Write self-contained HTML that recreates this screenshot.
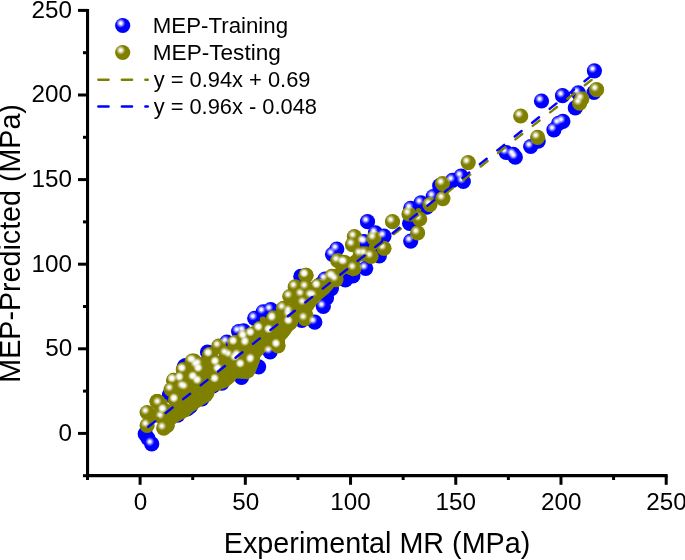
<!DOCTYPE html>
<html><head><meta charset="utf-8"><style>
html,body{margin:0;padding:0;background:#fff;}
svg{display:block;will-change:transform;font-family:"Liberation Sans",sans-serif;}
</style></head><body>
<svg width="685" height="560" viewBox="0 0 685 560">
<defs>
<radialGradient id="gb" cx="0.37" cy="0.35" r="0.30">
<stop offset="0" stop-color="#ffffff"/><stop offset="0.25" stop-color="#f4f4ff"/><stop offset="1" stop-color="#0000ff"/>
</radialGradient>
<radialGradient id="go" cx="0.37" cy="0.35" r="0.30">
<stop offset="0" stop-color="#ffffff"/><stop offset="0.25" stop-color="#f8f8f0"/><stop offset="1" stop-color="#808000"/>
</radialGradient>
<radialGradient id="gh" cx="0.5" cy="0.5" r="0.5">
<stop offset="0" stop-color="#fff" stop-opacity="1"/><stop offset="0.28" stop-color="#fff" stop-opacity="0.9"/><stop offset="0.65" stop-color="#fff" stop-opacity="0.36"/><stop offset="1" stop-color="#fff" stop-opacity="0"/>
</radialGradient>
</defs>
<rect width="685" height="560" fill="#fff"/>
<g id="pb" fill="#0000ff">
<circle cx="594.4" cy="70.8" r="7.6"/>
<circle cx="541.5" cy="101.0" r="7.6"/>
<circle cx="562.5" cy="95.7" r="7.6"/>
<circle cx="578.3" cy="92.9" r="7.6"/>
<circle cx="594.0" cy="92.5" r="7.6"/>
<circle cx="575.3" cy="107.9" r="7.6"/>
<circle cx="562.9" cy="121.4" r="7.6"/>
<circle cx="558.6" cy="123.3" r="7.6"/>
<circle cx="553.9" cy="129.8" r="7.6"/>
<circle cx="538.2" cy="141.1" r="7.6"/>
<circle cx="530.7" cy="146.5" r="7.6"/>
<circle cx="506.1" cy="152.5" r="7.6"/>
<circle cx="513.2" cy="154.4" r="7.6"/>
<circle cx="515.3" cy="157.2" r="7.6"/>
<circle cx="461.1" cy="176.1" r="7.6"/>
<circle cx="452.5" cy="180.4" r="7.6"/>
<circle cx="463.3" cy="181.5" r="7.6"/>
<circle cx="439.7" cy="185.7" r="7.6"/>
<circle cx="433.2" cy="196.5" r="7.6"/>
<circle cx="421.0" cy="202.9" r="7.6"/>
<circle cx="410.7" cy="208.3" r="7.6"/>
<circle cx="426.8" cy="207.2" r="7.6"/>
<circle cx="409.6" cy="223.3" r="7.6"/>
<circle cx="410.7" cy="241.1" r="7.6"/>
<circle cx="367.5" cy="221.7" r="7.6"/>
<circle cx="375.4" cy="232.9" r="7.6"/>
<circle cx="384.0" cy="236.1" r="7.6"/>
<circle cx="336.8" cy="249.0" r="7.6"/>
<circle cx="332.5" cy="254.3" r="7.6"/>
<circle cx="363.6" cy="241.5" r="7.6"/>
<circle cx="379.3" cy="256.0" r="7.6"/>
<circle cx="365.7" cy="268.3" r="7.6"/>
<circle cx="352.9" cy="275.8" r="7.6"/>
<circle cx="345.4" cy="280.0" r="7.6"/>
<circle cx="325.0" cy="279.0" r="7.6"/>
<circle cx="320.7" cy="284.3" r="7.6"/>
<circle cx="323.3" cy="306.5" r="7.6"/>
<circle cx="331.4" cy="288.6" r="7.6"/>
<circle cx="365.0" cy="242.0" r="7.6"/>
<circle cx="300.8" cy="276.4" r="7.6"/>
<circle cx="263.2" cy="311.8" r="7.6"/>
<circle cx="254.7" cy="318.3" r="7.6"/>
<circle cx="270.7" cy="309.7" r="7.6"/>
<circle cx="238.6" cy="331.5" r="7.6"/>
<circle cx="270.1" cy="351.8" r="7.6"/>
<circle cx="326.5" cy="297.9" r="7.6"/>
<circle cx="301.8" cy="320.4" r="7.6"/>
<circle cx="314.8" cy="322.2" r="7.6"/>
<circle cx="226.8" cy="342.0" r="7.6"/>
<circle cx="207.5" cy="352.1" r="7.6"/>
<circle cx="258.6" cy="366.8" r="7.6"/>
<circle cx="241.5" cy="377.5" r="7.6"/>
<circle cx="221.9" cy="383.1" r="7.6"/>
<circle cx="213.0" cy="386.0" r="7.6"/>
<circle cx="185.4" cy="365.5" r="7.6"/>
<circle cx="169.5" cy="395.0" r="7.6"/>
<circle cx="190.5" cy="406.5" r="7.6"/>
<circle cx="175.0" cy="414.0" r="7.6"/>
<circle cx="145.2" cy="433.8" r="7.6"/>
<circle cx="148.0" cy="438.4" r="7.6"/>
<circle cx="151.7" cy="443.9" r="7.6"/>
<circle cx="201.9" cy="398.8" r="7.6"/>
<circle cx="187.2" cy="409.0" r="7.6"/>
<circle cx="177.7" cy="415.2" r="7.6"/>
<circle cx="184.2" cy="366.9" r="7.6"/>
<circle cx="169.5" cy="395.0" r="7.6"/>
<circle cx="243.6" cy="330.8" r="7.6"/>
</g>
<g id="pf" fill="#808000">
<polygon points="171.4,430.0 173.6,425.0 178.6,421.4 184.3,418.6 189.3,415.7 192.9,411.9 197.1,409.3 200.0,407.1 205.7,403.6 210.7,400.7 213.6,396.4 215.0,392.1 220.0,390.0 225.7,387.9 230.0,385.3 234.3,381.4 236.4,378.6 247.9,379.3 252.9,376.4 255.7,372.1 257.9,366.4 258.6,360.7 260.7,356.4 264.3,352.9 267.9,349.3 277.9,352.1 282.9,349.3 285.0,345.0 285.0,340.0 289.3,335.0 292.9,330.0 295.0,328.6 297.9,322.1 304.3,323.6 310.7,320.7 313.6,315.0 312.1,310.7 317.1,303.6 322.9,297.9 328.6,293.6 332.9,288.6 336.4,284.3 341.4,280.7 342.9,276.4 345.7,273.6 352.9,276.4 357.9,273.6 360.0,269.3 360.0,249.0 357.9,250.7 352.9,254.7 345.7,260.4 342.9,262.6 341.4,263.8 336.4,267.7 332.9,270.5 328.6,273.9 322.9,278.4 317.1,283.0 312.1,287.0 313.6,285.8 310.7,288.1 304.3,293.2 297.9,298.2 295.0,300.5 292.9,302.2 289.3,305.1 285.0,308.5 285.0,308.5 282.9,310.1 277.9,314.1 267.9,322.0 264.3,324.9 260.7,327.7 258.6,329.4 257.9,329.9 255.7,331.7 252.9,333.9 247.9,337.9 236.4,347.0 234.3,348.6 230.0,352.0 225.7,355.5 220.0,360.0 215.0,363.9 213.6,365.0 210.7,367.3 205.7,371.3 200.0,375.8 197.1,378.1 192.9,381.4 189.3,384.3 184.3,388.3 178.6,392.8 173.6,396.7 171.4,398.5"/>
<circle cx="265.5" cy="322" r="2.2"/>
<circle cx="152.5" cy="418.5" r="2.5"/>
<circle cx="418.5" cy="210.7" r="2.8"/>
<circle cx="372.5" cy="247.4" r="3.8"/>
<circle cx="292.9" cy="300.3" r="3.8"/>
<circle cx="263" cy="319.8" r="3.2"/>
<circle cx="206.4" cy="365.1" r="5.2"/>
<circle cx="216" cy="352.5" r="2.8"/>
<circle cx="152.5" cy="413.5" r="4.8"/>
<circle cx="165.5" cy="401.5" r="2.2"/>
</g>
<g id="po" fill="#808000">
<circle cx="596.6" cy="89.7" r="7.6"/>
<circle cx="581.8" cy="98.9" r="7.6"/>
<circle cx="579.6" cy="103.2" r="7.6"/>
<circle cx="520.7" cy="116.0" r="7.6"/>
<circle cx="537.6" cy="137.3" r="7.6"/>
<circle cx="468.2" cy="162.6" r="7.6"/>
<circle cx="442.5" cy="183.6" r="7.6"/>
<circle cx="442.9" cy="198.6" r="7.6"/>
<circle cx="430.0" cy="204.6" r="7.6"/>
<circle cx="409.0" cy="214.0" r="7.6"/>
<circle cx="419.7" cy="219.0" r="7.6"/>
<circle cx="417.6" cy="232.9" r="7.6"/>
<circle cx="392.5" cy="221.7" r="7.6"/>
<circle cx="354.4" cy="236.7" r="7.6"/>
<circle cx="352.5" cy="244.7" r="7.6"/>
<circle cx="373.9" cy="238.2" r="7.6"/>
<circle cx="384.0" cy="248.3" r="7.6"/>
<circle cx="371.1" cy="256.5" r="7.6"/>
<circle cx="360.4" cy="253.9" r="7.6"/>
<circle cx="337.8" cy="260.7" r="7.6"/>
<circle cx="345.3" cy="262.8" r="7.6"/>
<circle cx="354.0" cy="268.3" r="7.6"/>
<circle cx="333.5" cy="276.8" r="7.6"/>
<circle cx="318.5" cy="286.4" r="7.6"/>
<circle cx="306.0" cy="275.3" r="7.6"/>
<circle cx="314.2" cy="296.0" r="7.6"/>
<circle cx="365.0" cy="253.9" r="7.6"/>
<circle cx="343.6" cy="262.4" r="7.6"/>
<circle cx="331.8" cy="276.4" r="7.6"/>
<circle cx="336.0" cy="279.6" r="7.6"/>
<circle cx="306.0" cy="275.3" r="7.6"/>
<circle cx="295.2" cy="286.8" r="7.6"/>
<circle cx="306.0" cy="287.1" r="7.6"/>
<circle cx="317.8" cy="286.0" r="7.6"/>
<circle cx="289.8" cy="296.5" r="7.6"/>
<circle cx="301.8" cy="294.6" r="7.6"/>
<circle cx="311.4" cy="295.7" r="7.6"/>
<circle cx="303.9" cy="303.2" r="7.6"/>
<circle cx="289.8" cy="311.5" r="7.6"/>
<circle cx="283.4" cy="308.3" r="7.6"/>
<circle cx="273.7" cy="317.9" r="7.6"/>
<circle cx="289.8" cy="322.2" r="7.6"/>
<circle cx="305.0" cy="318.6" r="7.6"/>
<circle cx="259.8" cy="328.6" r="7.6"/>
<circle cx="270.5" cy="330.8" r="7.6"/>
<circle cx="252.3" cy="334.0" r="7.6"/>
<circle cx="244.5" cy="336.8" r="7.6"/>
<circle cx="246.9" cy="342.6" r="7.6"/>
<circle cx="235.1" cy="342.6" r="7.6"/>
<circle cx="278.0" cy="345.8" r="7.6"/>
<circle cx="281.5" cy="332.2" r="7.6"/>
<circle cx="251.4" cy="349.3" r="7.6"/>
<circle cx="257.9" cy="342.9" r="7.6"/>
<circle cx="238.3" cy="355.4" r="7.6"/>
<circle cx="252.3" cy="359.7" r="7.6"/>
<circle cx="289.5" cy="315.0" r="7.6"/>
<circle cx="273.4" cy="319.3" r="7.6"/>
<circle cx="290.5" cy="322.5" r="7.6"/>
<circle cx="260.5" cy="329.0" r="7.6"/>
<circle cx="270.2" cy="331.1" r="7.6"/>
<circle cx="244.5" cy="336.8" r="7.6"/>
<circle cx="251.9" cy="334.3" r="7.6"/>
<circle cx="234.8" cy="342.9" r="7.6"/>
<circle cx="246.6" cy="344.0" r="7.6"/>
<circle cx="277.7" cy="345.0" r="7.6"/>
<circle cx="218.7" cy="346.1" r="7.6"/>
<circle cx="210.1" cy="354.7" r="7.6"/>
<circle cx="226.2" cy="353.6" r="7.6"/>
<circle cx="235.9" cy="359.0" r="7.6"/>
<circle cx="251.9" cy="361.1" r="7.6"/>
<circle cx="242.3" cy="365.4" r="7.6"/>
<circle cx="216.6" cy="363.3" r="7.6"/>
<circle cx="219.8" cy="369.7" r="7.6"/>
<circle cx="194.1" cy="361.1" r="7.6"/>
<circle cx="199.4" cy="364.3" r="7.6"/>
<circle cx="200.5" cy="369.7" r="7.6"/>
<circle cx="183.3" cy="369.7" r="7.6"/>
<circle cx="181.2" cy="378.3" r="7.6"/>
<circle cx="173.7" cy="380.4" r="7.6"/>
<circle cx="194.1" cy="378.3" r="7.6"/>
<circle cx="199.4" cy="381.5" r="7.6"/>
<circle cx="216.6" cy="380.4" r="7.6"/>
<circle cx="183.3" cy="386.8" r="7.6"/>
<circle cx="190.0" cy="386.1" r="7.6"/>
<circle cx="175.8" cy="399.7" r="7.6"/>
<circle cx="164.0" cy="410.4" r="7.6"/>
<circle cx="206.1" cy="392.5" r="7.6"/>
<circle cx="245.8" cy="370.0" r="7.6"/>
<circle cx="228.6" cy="376.5" r="7.6"/>
<circle cx="187.9" cy="400.0" r="7.6"/>
<circle cx="170.7" cy="417.2" r="7.6"/>
<circle cx="147.1" cy="412.5" r="7.6"/>
<circle cx="147.1" cy="425.4" r="7.6"/>
<circle cx="159.1" cy="403.3" r="7.6"/>
<circle cx="164.6" cy="410.7" r="7.6"/>
<circle cx="161.9" cy="417.1" r="7.6"/>
<circle cx="163.7" cy="428.2" r="7.6"/>
<circle cx="167.3" cy="425.5" r="7.6"/>
<circle cx="175.7" cy="400.6" r="7.6"/>
<circle cx="173.8" cy="380.3" r="7.6"/>
<circle cx="181.2" cy="379.4" r="7.6"/>
<circle cx="171.1" cy="389.5" r="7.6"/>
<circle cx="185.8" cy="387.7" r="7.6"/>
<circle cx="195.0" cy="377.6" r="7.6"/>
<circle cx="198.7" cy="382.2" r="7.6"/>
<circle cx="184.0" cy="370.2" r="7.6"/>
<circle cx="192.2" cy="361.0" r="7.6"/>
<circle cx="199.6" cy="370.2" r="7.6"/>
<circle cx="196.8" cy="365.6" r="7.6"/>
<circle cx="209.7" cy="354.6" r="7.6"/>
<circle cx="217.1" cy="362.8" r="7.6"/>
<circle cx="218.9" cy="370.2" r="7.6"/>
<circle cx="216.2" cy="380.3" r="7.6"/>
<circle cx="237.3" cy="358.2" r="7.6"/>
<circle cx="241.9" cy="365.6" r="7.6"/>
<circle cx="206.0" cy="391.4" r="7.6"/>
<circle cx="183.9" cy="396.0" r="7.6"/>
<circle cx="157.2" cy="401.5" r="7.6"/>
<circle cx="157.2" cy="401.5" r="7.6"/>
<circle cx="157.2" cy="401.5" r="7.6"/>
<circle cx="230.0" cy="355.5" r="7.6"/>
</g>
<g id="hl" fill="url(#gh)">
<circle cx="592.5" cy="68.6" r="4.7"/>
<circle cx="539.6" cy="98.8" r="4.7"/>
<circle cx="560.6" cy="93.5" r="4.7"/>
<circle cx="576.4" cy="90.7" r="4.7"/>
<circle cx="561.0" cy="119.2" r="4.7"/>
<circle cx="556.7" cy="121.1" r="4.7"/>
<circle cx="552.0" cy="127.6" r="4.7"/>
<circle cx="528.8" cy="144.3" r="4.7"/>
<circle cx="504.2" cy="150.3" r="4.7"/>
<circle cx="511.3" cy="152.2" r="4.7"/>
<circle cx="513.4" cy="155.0" r="4.7"/>
<circle cx="459.2" cy="173.9" r="4.7"/>
<circle cx="450.6" cy="178.2" r="4.7"/>
<circle cx="461.4" cy="179.3" r="4.7"/>
<circle cx="431.3" cy="194.3" r="4.7"/>
<circle cx="419.1" cy="200.7" r="4.7"/>
<circle cx="408.8" cy="206.1" r="4.7"/>
<circle cx="408.8" cy="238.9" r="4.7"/>
<circle cx="365.6" cy="219.5" r="4.7"/>
<circle cx="373.5" cy="230.7" r="4.7"/>
<circle cx="382.1" cy="233.9" r="4.7"/>
<circle cx="334.9" cy="246.8" r="4.7"/>
<circle cx="330.6" cy="252.1" r="4.7"/>
<circle cx="361.7" cy="239.3" r="4.7"/>
<circle cx="363.8" cy="266.1" r="4.7"/>
<circle cx="323.1" cy="276.8" r="4.7"/>
<circle cx="321.4" cy="304.3" r="4.7"/>
<circle cx="363.1" cy="239.8" r="4.7"/>
<circle cx="261.3" cy="309.6" r="4.7"/>
<circle cx="252.8" cy="316.1" r="4.7"/>
<circle cx="268.8" cy="307.5" r="4.7"/>
<circle cx="236.7" cy="329.3" r="4.7"/>
<circle cx="268.2" cy="349.6" r="4.7"/>
<circle cx="312.9" cy="320.0" r="4.7"/>
<circle cx="224.9" cy="339.8" r="4.7"/>
<circle cx="149.8" cy="441.7" r="4.7"/>
<circle cx="241.7" cy="328.6" r="4.7"/>
<circle cx="594.7" cy="87.5" r="4.7"/>
<circle cx="579.9" cy="96.7" r="4.7"/>
<circle cx="577.7" cy="101.0" r="4.7"/>
<circle cx="518.8" cy="113.8" r="4.7"/>
<circle cx="535.7" cy="135.1" r="4.7"/>
<circle cx="466.3" cy="160.4" r="4.7"/>
<circle cx="440.6" cy="181.4" r="4.7"/>
<circle cx="441.0" cy="196.4" r="4.7"/>
<circle cx="428.1" cy="202.4" r="4.7"/>
<circle cx="407.1" cy="211.8" r="4.7"/>
<circle cx="417.8" cy="216.8" r="4.7"/>
<circle cx="415.7" cy="230.7" r="4.7"/>
<circle cx="390.6" cy="219.5" r="4.7"/>
<circle cx="352.5" cy="234.5" r="4.7"/>
<circle cx="350.6" cy="242.5" r="4.7"/>
<circle cx="372.0" cy="236.0" r="4.7"/>
<circle cx="382.1" cy="246.1" r="4.7"/>
<circle cx="369.2" cy="254.3" r="4.7"/>
<circle cx="358.5" cy="251.7" r="4.7"/>
<circle cx="335.9" cy="258.5" r="4.7"/>
<circle cx="343.4" cy="260.6" r="4.7"/>
<circle cx="352.1" cy="266.1" r="4.7"/>
<circle cx="331.6" cy="274.6" r="4.7"/>
<circle cx="316.6" cy="284.2" r="4.7"/>
<circle cx="304.1" cy="273.1" r="4.7"/>
<circle cx="312.3" cy="293.8" r="4.7"/>
<circle cx="363.1" cy="251.7" r="4.7"/>
<circle cx="341.7" cy="260.2" r="4.7"/>
<circle cx="329.9" cy="274.2" r="4.7"/>
<circle cx="334.1" cy="277.4" r="4.7"/>
<circle cx="304.1" cy="273.1" r="4.7"/>
<circle cx="293.3" cy="284.6" r="4.7"/>
<circle cx="304.1" cy="284.9" r="4.7"/>
<circle cx="315.9" cy="283.8" r="4.7"/>
<circle cx="287.9" cy="294.3" r="4.7"/>
<circle cx="299.9" cy="292.4" r="4.7"/>
<circle cx="309.5" cy="293.5" r="4.7"/>
<circle cx="302.0" cy="301.0" r="4.7"/>
<circle cx="287.9" cy="309.3" r="4.7"/>
<circle cx="281.5" cy="306.1" r="4.7"/>
<circle cx="271.8" cy="315.7" r="4.7"/>
<circle cx="287.9" cy="320.0" r="4.7"/>
<circle cx="303.1" cy="316.4" r="4.7"/>
<circle cx="257.9" cy="326.4" r="4.7"/>
<circle cx="268.6" cy="328.6" r="4.7"/>
<circle cx="250.4" cy="331.8" r="4.7"/>
<circle cx="242.6" cy="334.6" r="4.7"/>
<circle cx="245.0" cy="340.4" r="4.7"/>
<circle cx="233.2" cy="340.4" r="4.7"/>
<circle cx="276.1" cy="343.6" r="4.7"/>
<circle cx="236.4" cy="353.2" r="4.7"/>
<circle cx="250.4" cy="357.5" r="4.7"/>
<circle cx="287.6" cy="312.8" r="4.7"/>
<circle cx="271.5" cy="317.1" r="4.7"/>
<circle cx="288.6" cy="320.3" r="4.7"/>
<circle cx="258.6" cy="326.8" r="4.7"/>
<circle cx="268.3" cy="328.9" r="4.7"/>
<circle cx="242.6" cy="334.6" r="4.7"/>
<circle cx="250.0" cy="332.1" r="4.7"/>
<circle cx="232.9" cy="340.7" r="4.7"/>
<circle cx="244.7" cy="341.8" r="4.7"/>
<circle cx="275.8" cy="342.8" r="4.7"/>
<circle cx="216.8" cy="343.9" r="4.7"/>
<circle cx="208.2" cy="352.5" r="4.7"/>
<circle cx="224.3" cy="351.4" r="4.7"/>
<circle cx="234.0" cy="356.8" r="4.7"/>
<circle cx="250.0" cy="358.9" r="4.7"/>
<circle cx="240.4" cy="363.2" r="4.7"/>
<circle cx="214.7" cy="361.1" r="4.7"/>
<circle cx="217.9" cy="367.5" r="4.7"/>
<circle cx="192.2" cy="358.9" r="4.7"/>
<circle cx="197.5" cy="362.1" r="4.7"/>
<circle cx="198.6" cy="367.5" r="4.7"/>
<circle cx="181.4" cy="367.5" r="4.7"/>
<circle cx="179.3" cy="376.1" r="4.7"/>
<circle cx="171.8" cy="378.2" r="4.7"/>
<circle cx="192.2" cy="376.1" r="4.7"/>
<circle cx="197.5" cy="379.3" r="4.7"/>
<circle cx="214.7" cy="378.2" r="4.7"/>
<circle cx="181.4" cy="384.6" r="4.7"/>
<circle cx="173.9" cy="397.5" r="4.7"/>
<circle cx="162.1" cy="408.2" r="4.7"/>
<circle cx="145.2" cy="410.3" r="4.7"/>
<circle cx="145.2" cy="423.2" r="4.7"/>
<circle cx="157.2" cy="401.1" r="4.7"/>
<circle cx="162.7" cy="408.5" r="4.7"/>
<circle cx="160.0" cy="414.9" r="4.7"/>
<circle cx="161.8" cy="426.0" r="4.7"/>
<circle cx="173.8" cy="398.4" r="4.7"/>
<circle cx="171.9" cy="378.1" r="4.7"/>
<circle cx="179.3" cy="377.2" r="4.7"/>
<circle cx="169.2" cy="387.3" r="4.7"/>
<circle cx="183.9" cy="385.5" r="4.7"/>
<circle cx="193.1" cy="375.4" r="4.7"/>
<circle cx="196.8" cy="380.0" r="4.7"/>
<circle cx="182.1" cy="368.0" r="4.7"/>
<circle cx="190.3" cy="358.8" r="4.7"/>
<circle cx="197.7" cy="368.0" r="4.7"/>
<circle cx="194.9" cy="363.4" r="4.7"/>
<circle cx="207.8" cy="352.4" r="4.7"/>
<circle cx="215.2" cy="360.6" r="4.7"/>
<circle cx="217.0" cy="368.0" r="4.7"/>
<circle cx="214.3" cy="378.1" r="4.7"/>
<circle cx="235.4" cy="356.0" r="4.7"/>
<circle cx="240.0" cy="363.4" r="4.7"/>
<circle cx="228.1" cy="353.3" r="4.7"/>

</g>
<line x1="146.0" y1="427.4" x2="594.5" y2="77.7" stroke="#808000" stroke-width="2.4" stroke-linecap="round" stroke-dasharray="8.7 13.3" stroke-dashoffset="15.6"/>
<line x1="148.3" y1="426.8" x2="594.5" y2="73.3" stroke="#0000ff" stroke-width="2.4" stroke-linecap="round" stroke-dasharray="8.8 13.46"/>
<g stroke="#000" stroke-width="3" fill="none">
<line x1="87.55" y1="8.90" x2="87.55" y2="475.65" stroke-width="3.1"/>
<line x1="87.55" y1="475.65" x2="667.70" y2="475.65" stroke-width="3.2"/>
<line x1="78" y1="433.40" x2="87.55" y2="433.40"/>
<line x1="78" y1="348.80" x2="87.55" y2="348.80"/>
<line x1="78" y1="264.20" x2="87.55" y2="264.20"/>
<line x1="78" y1="179.60" x2="87.55" y2="179.60"/>
<line x1="78" y1="95.00" x2="87.55" y2="95.00"/>
<line x1="78" y1="10.40" x2="87.55" y2="10.40"/>
<line x1="83" y1="475.70" x2="87.55" y2="475.70"/>
<line x1="83" y1="391.10" x2="87.55" y2="391.10"/>
<line x1="83" y1="306.50" x2="87.55" y2="306.50"/>
<line x1="83" y1="221.90" x2="87.55" y2="221.90"/>
<line x1="83" y1="137.30" x2="87.55" y2="137.30"/>
<line x1="83" y1="52.70" x2="87.55" y2="52.70"/>
<line x1="140.10" y1="475.65" x2="140.10" y2="484.8"/>
<line x1="245.32" y1="475.65" x2="245.32" y2="484.8"/>
<line x1="350.54" y1="475.65" x2="350.54" y2="484.8"/>
<line x1="455.76" y1="475.65" x2="455.76" y2="484.8"/>
<line x1="560.98" y1="475.65" x2="560.98" y2="484.8"/>
<line x1="666.20" y1="475.65" x2="666.20" y2="484.8"/>
<line x1="87.49" y1="475.65" x2="87.49" y2="480"/>
<line x1="192.71" y1="475.65" x2="192.71" y2="480"/>
<line x1="297.93" y1="475.65" x2="297.93" y2="480"/>
<line x1="403.15" y1="475.65" x2="403.15" y2="480"/>
<line x1="508.37" y1="475.65" x2="508.37" y2="480"/>
<line x1="613.59" y1="475.65" x2="613.59" y2="480"/>
</g>
<g fill="#000">
<text x="152.83" y="32.60" font-size="22.0px" textLength="135.21" lengthAdjust="spacingAndGlyphs">MEP-Training</text>
<text x="152.80" y="59.70" font-size="22.0px" textLength="128.00" lengthAdjust="spacingAndGlyphs">MEP-Testing</text>
<text x="153.65" y="86.90" font-size="22.0px" textLength="156.87" lengthAdjust="spacingAndGlyphs">y = 0.94x + 0.69</text>
<text x="153.65" y="113.90" font-size="22.0px" textLength="163.34" lengthAdjust="spacingAndGlyphs">y = 0.96x - 0.048</text>
<text x="58.58" y="440.70" font-size="24.5px" textLength="13.50" lengthAdjust="spacingAndGlyphs">0</text>
<text x="45.21" y="356.10" font-size="24.5px" textLength="26.99" lengthAdjust="spacingAndGlyphs">50</text>
<text x="31.60" y="271.50" font-size="24.5px" textLength="40.48" lengthAdjust="spacingAndGlyphs">100</text>
<text x="31.60" y="186.90" font-size="24.5px" textLength="40.48" lengthAdjust="spacingAndGlyphs">150</text>
<text x="31.60" y="102.30" font-size="24.5px" textLength="40.48" lengthAdjust="spacingAndGlyphs">200</text>
<text x="31.60" y="17.70" font-size="24.5px" textLength="40.48" lengthAdjust="spacingAndGlyphs">250</text>
<text x="133.79" y="509.90" font-size="24.5px" textLength="13.50" lengthAdjust="spacingAndGlyphs">0</text>
<text x="232.33" y="509.90" font-size="24.5px" textLength="26.99" lengthAdjust="spacingAndGlyphs">50</text>
<text x="330.37" y="509.90" font-size="24.5px" textLength="40.48" lengthAdjust="spacingAndGlyphs">100</text>
<text x="435.59" y="509.90" font-size="24.5px" textLength="40.48" lengthAdjust="spacingAndGlyphs">150</text>
<text x="541.06" y="509.90" font-size="24.5px" textLength="40.48" lengthAdjust="spacingAndGlyphs">200</text>
<text x="646.28" y="509.90" font-size="24.5px" textLength="40.48" lengthAdjust="spacingAndGlyphs">250</text>
<text x="223.85" y="553.10" font-size="29.25px" textLength="306.45" lengthAdjust="spacingAndGlyphs">Experimental MR (MPa)</text>
<text transform="rotate(-90)" x="-382.70" y="20.00" font-size="29.25px" textLength="278.61" lengthAdjust="spacingAndGlyphs">MEP-Predicted (MPa)</text>
</g>
<circle cx="122.7" cy="25.5" r="7.6" fill="url(#gb)"/>
<circle cx="122.7" cy="52.5" r="7.6" fill="url(#go)"/>
<line x1="98.35" y1="79.7" x2="147.75" y2="79.7" stroke="#808000" stroke-width="2.5" stroke-linecap="round" stroke-dasharray="10.2 13.3"/>
<line x1="98.35" y1="106.5" x2="147.75" y2="106.5" stroke="#0000ff" stroke-width="2.5" stroke-linecap="round" stroke-dasharray="10.2 13.3"/>
</svg>
</body></html>
